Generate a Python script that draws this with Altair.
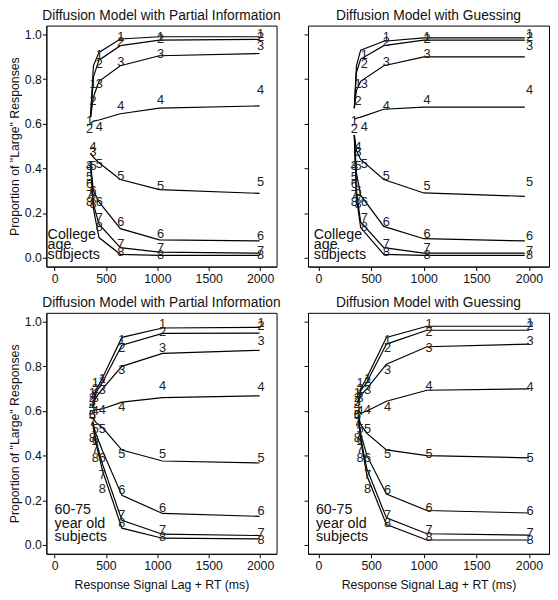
import altair as alt
import pandas as pd

conds = ["1", "2", "3", "4", "5", "6", "7", "8"]

# ---- observed data (digits), shared by both models within an age group ----
young_t = [340, 375, 435, 645, 1030, 2005]
young_p = [
    [0.61, 0.78, 0.91, 0.99, 0.99, 1.0],
    [0.575, 0.70, 0.868, 0.965, 0.978, 0.988],
    [0.41, 0.475, 0.78, 0.878, 0.914, 0.947],
    [0.41, 0.495, 0.584, 0.68, 0.705, 0.749],
    [0.36, 0.41, 0.42, 0.364, 0.32, 0.337],
    [0.33, 0.30, 0.25, 0.159, 0.104, 0.097],
    [0.28, 0.26, 0.176, 0.06, 0.041, 0.031],
    [0.25, 0.24, 0.137, 0.023, 0.011, 0.011],
]
old_t = [368, 395, 465, 655, 1050, 2010]
old_p = [
    [0.68, 0.724, 0.745, 0.918, 0.988, 0.996],
    [0.66, 0.70, 0.731, 0.883, 0.955, 0.981],
    [0.64, 0.66, 0.693, 0.783, 0.883, 0.912],
    [0.62, 0.60, 0.605, 0.618, 0.714, 0.706],
    [0.58, 0.52, 0.517, 0.408, 0.405, 0.39],
    [0.58, 0.47, 0.389, 0.244, 0.163, 0.151],
    [0.55, 0.43, 0.312, 0.132, 0.068, 0.051],
    [0.48, 0.389, 0.249, 0.097, 0.034, 0.022],
]

# ---- model predictions (lines) ----
pi_young_t = [350, 378, 432, 640, 1020, 1995]
pi_young = [
    [0.63, 0.86, 0.92, 0.98, 0.99, 0.99],
    [0.63, 0.81, 0.885, 0.95, 0.975, 0.978],
    [0.63, 0.72, 0.79, 0.86, 0.905, 0.915],
    [0.60, 0.612, 0.617, 0.645, 0.67, 0.68],
    [0.47, 0.45, 0.425, 0.35, 0.305, 0.288],
    [0.42, 0.30, 0.25, 0.13, 0.08, 0.075],
    [0.42, 0.24, 0.15, 0.045, 0.025, 0.02],
    [0.42, 0.22, 0.09, 0.015, 0.01, 0.01],
]
g_young_t = [340, 360, 400, 620, 1000, 1960]
g_young = [
    [0.67, 0.86, 0.93, 0.97, 0.985, 0.985],
    [0.67, 0.83, 0.89, 0.95, 0.975, 0.975],
    [0.67, 0.75, 0.79, 0.86, 0.90, 0.90],
    [0.62, 0.625, 0.63, 0.665, 0.675, 0.675],
    [0.55, 0.48, 0.44, 0.35, 0.29, 0.275],
    [0.55, 0.38, 0.28, 0.14, 0.085, 0.075],
    [0.55, 0.30, 0.16, 0.045, 0.02, 0.02],
    [0.55, 0.27, 0.135, 0.015, 0.01, 0.01],
]
pi_old_t = [372, 400, 468, 655, 1050, 1995]
pi_old = [
    [0.62, 0.69, 0.75, 0.93, 0.972, 0.975],
    [0.62, 0.68, 0.73, 0.895, 0.948, 0.949],
    [0.62, 0.66, 0.70, 0.80, 0.858, 0.872],
    [0.60, 0.605, 0.61, 0.64, 0.66, 0.668],
    [0.57, 0.55, 0.525, 0.425, 0.376, 0.367],
    [0.55, 0.50, 0.42, 0.222, 0.141, 0.128],
    [0.55, 0.47, 0.36, 0.11, 0.048, 0.042],
    [0.55, 0.46, 0.33, 0.075, 0.03, 0.027],
]
g_old_t = [378, 400, 460, 645, 1030, 2000]
g_old = [
    [0.64, 0.70, 0.75, 0.93, 0.98, 0.98],
    [0.64, 0.69, 0.73, 0.90, 0.962, 0.962],
    [0.64, 0.67, 0.70, 0.81, 0.888, 0.90],
    [0.60, 0.59, 0.60, 0.644, 0.693, 0.699],
    [0.58, 0.54, 0.50, 0.426, 0.40, 0.39],
    [0.58, 0.50, 0.40, 0.228, 0.154, 0.143],
    [0.58, 0.48, 0.34, 0.121, 0.05, 0.044],
    [0.58, 0.47, 0.31, 0.091, 0.022, 0.022],
]

titles = ["Diffusion Model with Partial Information", "Diffusion Model with Guessing"]
x_ticks = [0, 500, 1000, 1500, 2000]
y_ticks = [0.0, 0.2, 0.4, 0.6, 0.8, 1.0]
y_title = 'Proportion of "Large" Responses'
x_title = "Response Signal Lag + RT (ms)"
notes = ["College\nage\nsubjects", "60-75\nyear old\nsubjects"]

FONT = "Liberation Sans"


def long_df(times, vals):
    rows = []
    for c, ys in zip(conds, vals):
        for t, y in zip(times, ys):
            rows.append({"cond": c, "t": t, "p": y})
    return pd.DataFrame(rows)


def panel(title, dt, dv, mt, mv, note, note_x, note_y, lh, xdom, width, left, bottom):
    xs = alt.Scale(domain=xdom, nice=False, zero=False)
    ys = alt.Scale(domain=[-0.04, 1.04], nice=False, zero=False)
    xax = alt.Axis(values=x_ticks, format="d", title=x_title if bottom else None,
                   grid=False, tickSize=4, labelPadding=2, labelFontSize=12.5,
                   titleFontSize=12.5, titleFontWeight="normal", titlePadding=7)
    yax = alt.Axis(values=y_ticks, format=".1f", title=y_title if left else None,
                   labels=left, grid=False, tickSize=4, labelPadding=1,
                   labelFontSize=12.5, titleFontSize=12.5, titleFontWeight="normal",
                   titlePadding=3)
    x = alt.X("t:Q", scale=xs, axis=xax)
    y = alt.Y("p:Q", scale=ys, axis=yax)

    lines = alt.Chart(long_df(mt, mv)).mark_line(color="black", strokeWidth=1.2).encode(
        x=x, y=y, detail="cond:N", order="t:Q")
    digits = alt.Chart(long_df(dt, dv)).mark_text(
        fontSize=13, fill="#222", font=FONT, baseline="middle", align="center"
    ).encode(x=x, y=y, text="cond:N")
    lab = alt.Chart(pd.DataFrame({"t": [note_x], "p": [note_y], "txt": [note]})).mark_text(
        fontSize=14.5, fill="#111", font=FONT, align="left", baseline="alphabetic",
        lineBreak="\n", lineHeight=lh
    ).encode(x=x, y=y, text="txt:N")

    return alt.layer(lines, digits, lab).properties(
        width=width, height=245,
        title=alt.TitleParams(title, fontSize=14, fontWeight="normal", font=FONT,
                              color="#111", offset=3))


dom_l = [-80, 2160]
dom_r = [-100, 2190]

tl = panel(titles[0], young_t, young_p, pi_young_t, pi_young, notes[0], -68, 0.085, 10.5, dom_l, 234, True, False)
tr = panel(titles[1], young_t, young_p, g_young_t, g_young, notes[0], -45, 0.085, 10.5, dom_r, 245, False, False)
bl = panel(titles[0], old_t, old_p, pi_old_t, pi_old, notes[1], 0, 0.137, 13.5, dom_l, 234, True, True)
br = panel(titles[1], old_t, old_p, g_old_t, g_old, notes[1], -25, 0.137, 13.5, dom_r, 245, False, True)

chart = alt.vconcat(
    alt.hconcat(tl, tr, spacing=22),
    alt.hconcat(bl, br, spacing=22),
    spacing=10,
).configure_view(stroke="black", strokeWidth=1).configure_axis(
    labelFont=FONT, titleFont=FONT, labelColor="#111", titleColor="#111",
    domainColor="black", tickColor="black"
).properties(padding={"top": -5, "left": 0, "right": 0, "bottom": 0}, background="white")

chart.save("out.html", embed_options={"renderer": "svg", "actions": False})
